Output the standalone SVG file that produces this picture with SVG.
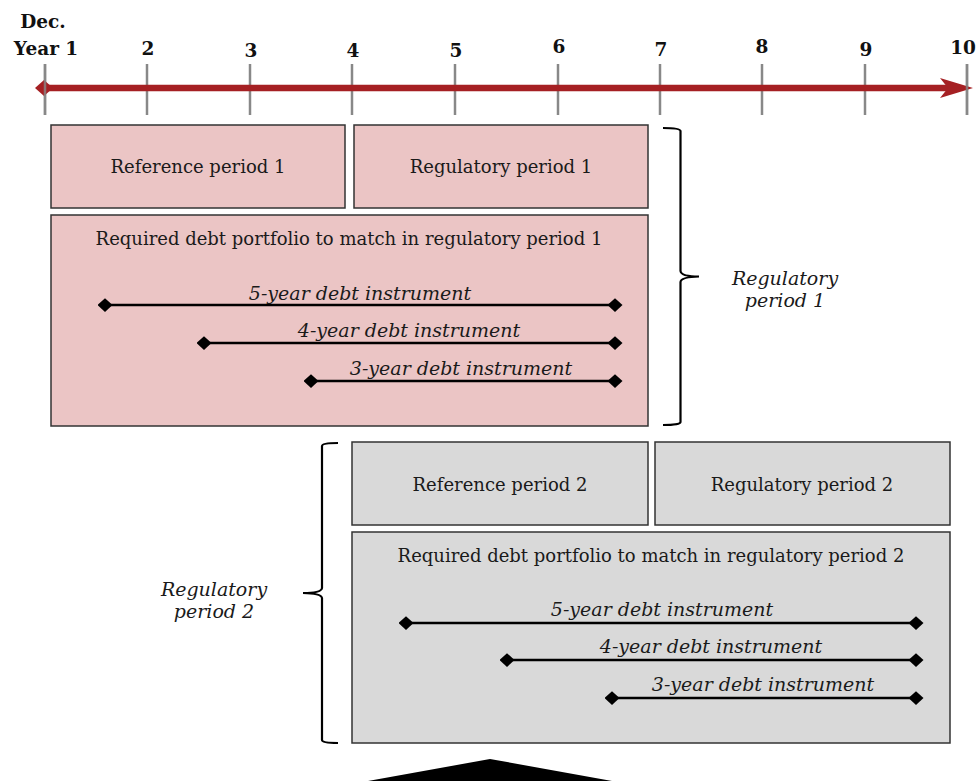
<svg xmlns="http://www.w3.org/2000/svg" width="978" height="781" viewBox="0 0 978 781">
<style>
.lbl{font-family:"DejaVu Serif","Liberation Serif",serif;font-size:18px;fill:#1a1a1a;text-anchor:middle}
.it{font-family:"DejaVu Serif","Liberation Serif",serif;font-size:19px;font-style:italic;fill:#1a1a1a;text-anchor:middle}
.yr{font-family:"DejaVu Serif","Liberation Serif",serif;font-size:18.5px;font-weight:bold;fill:#111;text-anchor:middle}
.tick{stroke:#888;stroke-width:2.5}
.pink{fill:#EBC5C5;stroke:#333;stroke-width:1.5}
.grey{fill:#D9D9D9;stroke:#333;stroke-width:1.5}
.inst{stroke:#000;stroke-width:2.5;marker-start:url(#dia);marker-end:url(#dia)}
.brace{fill:none;stroke:#000;stroke-width:2.2}
</style>
<defs>
<marker id="dia" viewBox="-6 -6 12 12" markerWidth="6" markerHeight="6" refX="0" refY="0" orient="auto" markerUnits="strokeWidth">
<path d="M-6 0 L0 -5.5 L6 0 L0 5.5 Z" fill="#000"/>
</marker>
</defs>
<g id="timeline">
<g class="tick">
<line x1="45" y1="64" x2="45" y2="115"/>
<line x1="147" y1="64" x2="147" y2="115"/>
<line x1="250" y1="64" x2="250" y2="115"/>
<line x1="352" y1="64" x2="352" y2="115"/>
<line x1="455" y1="64" x2="455" y2="115"/>
<line x1="558" y1="64" x2="558" y2="115"/>
<line x1="660" y1="64" x2="660" y2="115"/>
<line x1="762" y1="64" x2="762" y2="115"/>
<line x1="865" y1="64" x2="865" y2="115"/>
<line x1="967" y1="64" x2="967" y2="115"/>
</g>
<line x1="44" y1="88" x2="950" y2="88" stroke="#A52023" stroke-width="6.5"/>
<path d="M35 88 L44 80 L53 88 L44 96 Z" fill="#A52023"/>
<path d="M940 78 L973 88 L940 98 L948 88 Z" fill="#A52023"/>
<line x1="45" y1="64" x2="45" y2="115" class="tick" opacity="0.8"/>
<line x1="967" y1="64" x2="967" y2="115" class="tick" opacity="0.8"/>
<text class="yr" x="43" y="28">Dec.</text>
<text class="yr" x="46" y="55">Year 1</text>
<text class="yr" x="148" y="55">2</text>
<text class="yr" x="251" y="57">3</text>
<text class="yr" x="353" y="57">4</text>
<text class="yr" x="456" y="57">5</text>
<text class="yr" x="559" y="53">6</text>
<text class="yr" x="661" y="56">7</text>
<text class="yr" x="762" y="53">8</text>
<text class="yr" x="866" y="56">9</text>
<text class="yr" x="963" y="54">10</text>
</g>
<g id="ref1">
<rect class="pink" x="51" y="125" width="294" height="83"/>
<text class="lbl" x="198" y="173">Reference period 1</text>
</g>
<g id="reg1">
<rect class="pink" x="354" y="125" width="294" height="83"/>
<text class="lbl" x="501" y="173">Regulatory period 1</text>
</g>
<g id="portfolio1">
<rect class="pink" x="51" y="215" width="597" height="211"/>
<text class="lbl" x="349" y="245">Required debt portfolio to match in regulatory period 1</text>
<line class="inst" x1="105" y1="305" x2="615" y2="305"/>
<text class="it" x="360" y="300">5-year debt instrument</text>
<line class="inst" x1="204" y1="343" x2="615" y2="343"/>
<text class="it" x="409" y="337">4-year debt instrument</text>
<line class="inst" x1="311" y1="381" x2="615" y2="381"/>
<text class="it" x="461" y="375">3-year debt instrument</text>
</g>
<g id="brace1">
<path class="brace" d="M663 128 Q680 128 680.5 131 L680.5 271 Q681 276.5 699 276.5 Q681 277 680.5 282 L680.5 422 Q680 425 663 425"/>
<text class="it" x="785" y="285">Regulatory</text>
<text class="it" x="785" y="307">period 1</text>
</g>
<g id="ref2">
<rect class="grey" x="352" y="442" width="296" height="83"/>
<text class="lbl" x="500" y="491">Reference period 2</text>
</g>
<g id="reg2">
<rect class="grey" x="655" y="442" width="295" height="83"/>
<text class="lbl" x="802" y="491">Regulatory period 2</text>
</g>
<g id="portfolio2">
<rect class="grey" x="352" y="532" width="598" height="211"/>
<text class="lbl" x="651" y="562">Required debt portfolio to match in regulatory period 2</text>
<line class="inst" x1="406" y1="623" x2="916" y2="623"/>
<text class="it" x="662" y="616">5-year debt instrument</text>
<line class="inst" x1="507" y1="660" x2="916" y2="660"/>
<text class="it" x="711" y="653">4-year debt instrument</text>
<line class="inst" x1="612" y1="698" x2="916" y2="698"/>
<text class="it" x="763" y="691">3-year debt instrument</text>
</g>
<g id="brace2">
<path class="brace" d="M338 443 Q322 443 322 446 L322 588 Q321.5 593 303 593 Q321.5 593.5 322 598 L322 740 Q322 743 338 743"/>
<text class="it" x="214" y="596">Regulatory</text>
<text class="it" x="214" y="618">period 2</text>
</g>
<g id="bottom-arrow">
<path d="M368 781 L490 759 L612 781 Z" fill="#000"/>
</g>
</svg>
